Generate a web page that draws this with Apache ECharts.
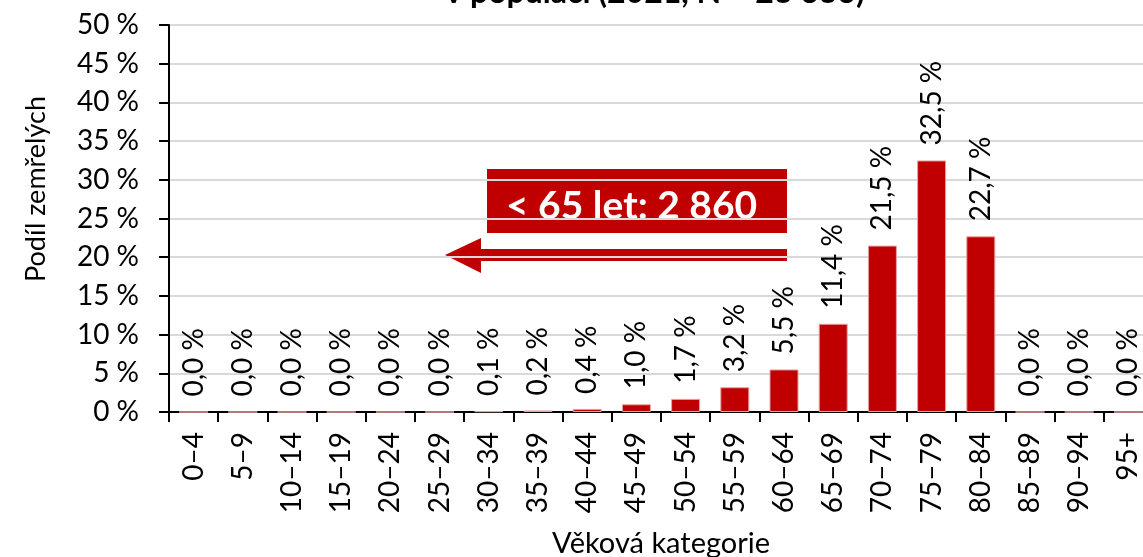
<!DOCTYPE html>
<html>
<head>
<meta charset="utf-8">
<script src="https://cdn.jsdelivr.net/npm/echarts@6/dist/echarts.min.js"></script>
<style>
  html, body { margin: 0; padding: 0; background: #fff; }
  #main { width: 1143px; height: 557px; }
</style>
</head>
<body>
<div id="main"></div>
<script>
// věkové kategorie
var categories = ['0–4', '5–9', '10–14', '15–19', '20–24', '25–29', '30–34', '35–39', '40–44', '45–49',
  '50–54', '55–59', '60–64', '65–69', '70–74', '75–79', '80–84', '85–89', '90–94', '95+'];
// podíl zemřelých v %
var podil = [0.0, 0.0, 0.0, 0.0, 0.0, 0.0, 0.1, 0.2, 0.4, 1.0,
  1.7, 3.2, 5.5, 11.4, 21.5, 32.5, 22.7, 0.0, 0.0, 0.0];
var yTicks = { min: 0, max: 50, step: 5 };
var titleText = 'v populaci (2021, N = 23 636)';
var noteText = '< 65 let: 2 860';

var FONT = 'Lato, "Open Sans", sans-serif';
var RED = '#C00000';

function fmt(v) {
  return v.toFixed(1).replace('.', ',') + ' %';
}

var myChart = echarts.init(document.getElementById('main'));
var option = {
  animation: false,
  textStyle: { fontFamily: FONT },
  grid: { left: 169, top: 25, width: 984, height: 387, containLabel: false, outerBoundsMode: 'none' },
  xAxis: {
    type: 'category',
    data: categories,
    name: 'Věková kategorie',
    nameLocation: 'middle',
    nameGap: 117,
    nameTextStyle: { fontSize: 29, color: '#000', fontFamily: FONT },
    axisLine: { lineStyle: { color: '#000', width: 2 } },
    axisTick: { show: true, length: 10, lineStyle: { color: '#000', width: 2 } },
    axisLabel: { rotate: 90, margin: 20, fontSize: 28, color: '#000', fontFamily: FONT, interval: 0 }
  },
  yAxis: {
    type: 'value',
    min: yTicks.min,
    max: yTicks.max,
    interval: yTicks.step,
    axisLine: { show: true, lineStyle: { color: '#000', width: 2 } },
    axisTick: { show: true, length: 10, lineStyle: { color: '#000', width: 2 } },
    axisLabel: { margin: 30, fontSize: 28, color: '#000', fontFamily: FONT,
      formatter: function (v) { return v + ' %'; } },
    splitLine: { lineStyle: { color: '#d9d9d9', width: 2 } }
  },
  series: [{
    type: 'bar',
    data: podil,
    barWidth: 29,
    itemStyle: { color: RED, borderColor: '#e9a3a3', borderWidth: 1 },
    label: {
      show: true,
      position: 'top',
      rotate: 90,
      align: 'left',
      verticalAlign: 'middle',
      distance: 15,
      fontSize: 28,
      color: '#000',
      fontFamily: FONT,
      formatter: function (p) { return fmt(p.value); }
    }
  }],
  graphic: [
    { // nadpis (oříznutý)
      type: 'text', x: 655, y: 9,
      style: { text: titleText, font: 'bold 32px ' + FONT, fill: '#000', align: 'center', verticalAlign: 'bottom' }
    },
    { // název osy y
      type: 'text', x: 36, y: 189, rotation: Math.PI / 2,
      style: { text: 'Podíl zemřelých', font: '27px ' + FONT, fill: '#000',
        align: 'center', verticalAlign: 'middle' }
    },
    {
      type: 'rect', shape: { x: 487, y: 169, width: 300, height: 64 },
      style: { fill: RED }
    },
    {
      type: 'text', x: 506, y: 206,
      style: { text: noteText, font: 'bold 39px ' + FONT, fill: '#fff', verticalAlign: 'middle' }
    },
    {
      type: 'polygon',
      shape: { points: [[787, 249], [481, 249], [481, 238], [445, 255], [481, 273], [481, 261], [787, 261]] },
      style: { fill: RED }
    }
  ]
};
myChart.setOption(option);
</script>
</body>
</html>
